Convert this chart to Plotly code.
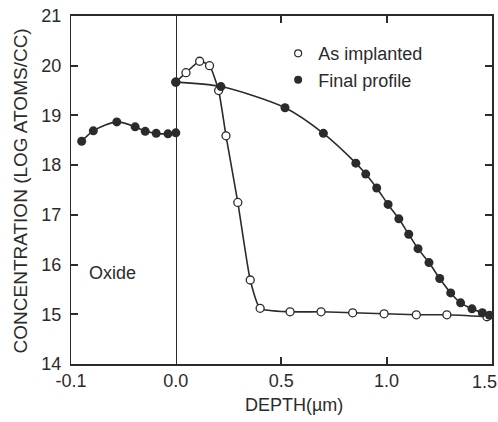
import plotly.graph_objects as go

# ---- data ----
oxide_depth = [-0.0898, -0.0787, -0.0563, -0.0388, -0.0292, -0.0187, -0.0075, 0.0]
oxide_final = [18.48, 18.69, 18.87, 18.77, 18.68, 18.64, 18.63, 18.65]

si_final_depth = [0.0, 0.214, 0.518, 0.700, 0.854, 0.901, 0.953, 1.007, 1.058,
                  1.105, 1.149, 1.201, 1.252, 1.304, 1.351, 1.405, 1.454, 1.488]
si_final = [19.67, 19.58, 19.155, 18.64, 18.04, 17.82, 17.54, 17.21, 16.92,
            16.61, 16.32, 16.04, 15.72, 15.43, 15.23, 15.11, 15.03, 14.98]

implant_depth = [0.0, 0.048, 0.113, 0.160, 0.203, 0.238, 0.294, 0.353, 0.400,
                 0.542, 0.689, 0.839, 0.988, 1.141, 1.286, 1.476]
implant = [19.67, 19.86, 20.09, 20.00, 19.50, 18.59, 17.25, 15.69, 15.12,
           15.05, 15.05, 15.03, 15.01, 14.99, 14.99, 14.95]

oxide_ticks = [-0.1]
oxide_ticktext = ["-0.1"]
si_ticks = [0.0, 0.5, 1.0, 1.5]
si_ticktext = ["0.0", "0.5", "1.0", ""]
last_tick_label = "1.5"
y_ticks = [14, 15, 16, 17, 18, 19, 20, 21]

INK = "#2b2b2b"
FONT = "Liberation Sans"
split = 0.249

fig = go.Figure()

fig.add_trace(go.Scatter(
    x=oxide_depth, y=oxide_final, xaxis="x", yaxis="y",
    mode="lines+markers", line=dict(color=INK, width=1.6, shape="spline", smoothing=0.8),
    marker=dict(symbol="circle", size=9, color=INK), showlegend=False, cliponaxis=False))

fig.add_trace(go.Scatter(
    x=implant_depth, y=implant, xaxis="x2", yaxis="y2",
    mode="lines+markers", line=dict(color=INK, width=1.6, shape="spline", smoothing=0.5),
    marker=dict(symbol="circle", size=8, color="white", line=dict(color=INK, width=1.3)),
    showlegend=False, cliponaxis=False))

fig.add_trace(go.Scatter(
    x=si_final_depth, y=si_final, xaxis="x2", yaxis="y2",
    mode="lines+markers", line=dict(color=INK, width=1.6, shape="spline", smoothing=0.8),
    marker=dict(symbol="circle", size=9, color=INK), showlegend=False, cliponaxis=False))

# legend-only entries
fig.add_trace(go.Scatter(
    x=[None], y=[None], xaxis="x2", yaxis="y2", mode="markers", name="As implanted",
    marker=dict(symbol="circle", size=7, color="white", line=dict(color=INK, width=1.2)),
    legendgroup="a"))
fig.add_trace(go.Scatter(
    x=[None], y=[None], xaxis="x2", yaxis="y2", mode="markers", name="Final profile",
    marker=dict(symbol="circle", size=8, color=INK), legendgroup="b"))

axis_common = dict(showgrid=False, zeroline=False, showline=True, linecolor=INK,
                   ticks="inside", tickcolor=INK, ticklen=7, tickwidth=1.5,
                   automargin=False,
                   tickfont=dict(family=FONT, size=18, color=INK))

fig.update_layout(
    width=498, height=422,
    margin=dict(l=71, r=6, t=16, b=58),
    paper_bgcolor="white", plot_bgcolor="white",
    font=dict(family=FONT, size=18, color=INK),
    xaxis=dict(domain=[0, split], range=[-0.1, 0], tickvals=oxide_ticks,
               ticktext=oxide_ticktext, anchor="y", mirror=True, linewidth=1.5,
               **axis_common),
    xaxis2=dict(domain=[split, 1], range=[0, 1.5], tickvals=si_ticks,
                ticktext=si_ticktext, anchor="y2", mirror="ticks", linewidth=1.5,
                **axis_common),
    yaxis=dict(range=[14, 21], tickvals=y_ticks, anchor="x", mirror=True,
               linewidth=1.3, ticklabelstandoff=5, **axis_common),
    yaxis2=dict(range=[14, 21], tickvals=y_ticks, anchor="x2", side="right",
                matches="y", showticklabels=False, linewidth=1.5, **axis_common),
    legend=dict(x=0.492, y=0.945, xanchor="left", yanchor="top",
                bgcolor="rgba(0,0,0,0)", font=dict(family=FONT, size=18, color=INK),
                tracegroupgap=0, itemwidth=30),
    showlegend=True,
    annotations=[
        dict(text="CONCENTRATION (LOG ATOMS/CC)", xref="paper", yref="paper",
             x=-0.121, y=0.496, xanchor="center", yanchor="middle", textangle=-90,
             showarrow=False, font=dict(family=FONT, size=19, color=INK)),
        dict(text="DEPTH(µm)", xref="paper", yref="paper", x=0.53, y=-0.118,
             xanchor="center", yanchor="middle", showarrow=False,
             font=dict(family=FONT, size=18, color=INK)),
        dict(text="Oxide", xref="x", yref="y", x=-0.0847, y=15.83,
             xanchor="left", yanchor="middle", showarrow=False,
             font=dict(family=FONT, size=18, color=INK)),
        dict(text=last_tick_label, xref="x2", yref="paper", x=si_ticks[-1], y=0,
             xanchor="right", yanchor="top", xshift=7, yshift=-6, showarrow=False,
             font=dict(family=FONT, size=18, color=INK)),
    ],
)

fig.write_html("out.html", config={"displayModeBar": False},
               post_script="document.body.style.margin='0';")
